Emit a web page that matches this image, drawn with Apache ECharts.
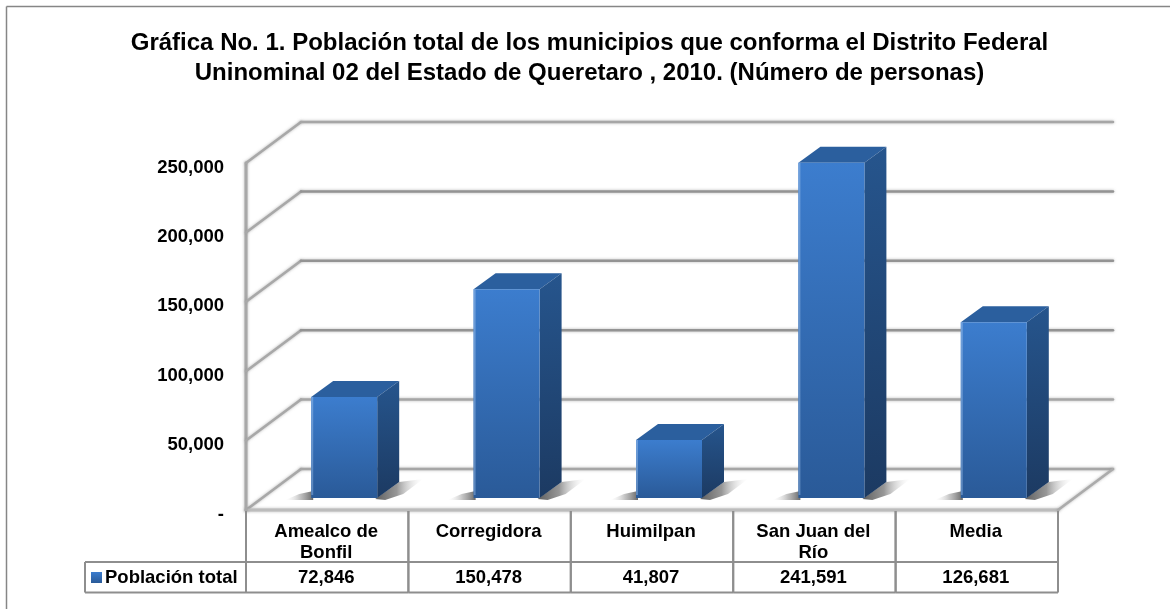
<!DOCTYPE html>
<html>
<head>
<meta charset="utf-8">
<style>html,body{margin:0;padding:0;background:#fff}#c{width:1170px;height:609px}</style>
<script src="https://cdn.jsdelivr.net/npm/echarts@6/dist/echarts.min.js"></script>
</head>
<body>
<div id="c"></div>
<script>
const categories = ["Amealco de\nBonfil", "Corregidora", "Huimilpan", "San Juan del\nRío", "Media"];
const values = [72846, 150478, 41807, 241591, 126681];
const valueLabels = ["72,846", "150,478", "41,807", "241,591", "126,681"];
const yTicks = [0, 50000, 100000, 150000, 200000, 250000];
const seriesName = "Población total";
const titleText = "Gráfica No. 1. Población total de los municipios que conforma el Distrito Federal\nUninominal 02 del Estado de Queretaro , 2010. (Número de personas)";

const FONT = '"Liberation Sans", Arial, sans-serif';
const grad = (c0, c1) => new echarts.graphic.LinearGradient(0, 0, 0, 1, [{offset: 0, color: c0}, {offset: 1, color: c1}]);
const fade = (stops) => new echarts.graphic.LinearGradient(0, 0, 1, 0, stops.map(s => ({offset: s[0], color: s[1]})));
const poly = (points, style, z2) => ({type: 'polygon', shape: {points}, style, z2: z2 || 0});
const line = (x1, y1, x2, y2, stroke, lineWidth, z2) => ({
  type: 'line', shape: {x1, y1, x2, y2}, z2: z2 || 0,
  style: {stroke, lineWidth, lineCap: 'round', shadowBlur: 3, shadowColor: 'rgba(150,150,150,0.7)'}
});

const WALL_DX = 55, WALL_DY = -41;
const BAR_SHIFT_X = 17, BAR_SHIFT_Y = -12;
const BAR_W = 66, BAR_DX = 22, BAR_DY = -16;

function renderWall(params, api) {
  const v = api.value(1);
  const band = api.size([1, 0])[0];
  const p0 = api.coord([0, v]);
  const p4 = api.coord([categories.length - 1, v]);
  const xL = p0[0] - band / 2, xR = p4[0] + band / 2, y = p0[1];
  const backColor = (v === 0 || v === 250000 || v === 50000) ? '#a6a6a6' : '#939393';
  const children = [
    line(xL, y, xL + WALL_DX, y + WALL_DY, '#a8a8a8', 2.5),
    line(xL + WALL_DX, y + WALL_DY, xR + WALL_DX, y + WALL_DY, backColor, 2.5)
  ];
  if (v === 0) {
    children.push(line(xL, y, xR, y, '#bcbcbc', 3));
    children.push(line(xR, y, xR + WALL_DX, y + WALL_DY, '#ababab', 2.5));
    const top = api.coord([0, yTicks[yTicks.length - 1]])[1];
    children.push(line(xL, y, xL, top, '#a8a8a8', 3));
  }
  return {type: 'group', children};
}

function renderBar(params, api) {
  const c = api.coord([api.value(0), api.value(1)]);
  const base = api.coord([api.value(0), 0]);
  const l = c[0] + BAR_SHIFT_X - BAR_W / 2, r = l + BAR_W;
  const t = c[1] + BAR_SHIFT_Y, b = base[1] + BAR_SHIFT_Y;
  const dx = BAR_DX, dy = BAR_DY;
  return {type: 'group', children: [
    poly([[r - 2, b + 1], [r + dx, b + dy], [r + 46, b - 19], [r + 26, b - 4], [r + 8, b + 2]],
      {fill: fade([[0, 'rgba(85,85,85,0.95)'], [0.45, 'rgba(125,125,125,0.8)'], [1, 'rgba(235,235,235,0)']])}),
    poly([[l - 26, b + 2], [l - 12, b - 4], [l + 2, b - 7], [l + 2, b + 2]],
      {fill: fade([[0, 'rgba(235,235,235,0)'], [0.55, 'rgba(165,165,165,0.7)'], [1, 'rgba(95,95,95,0.95)']])}),
    poly([[l, t], [l + dx, t + dy], [r + dx, t + dy], [r, t]], {fill: '#2b5f9e'}),
    poly([[r, t], [r + dx, t + dy], [r + dx, b + dy], [r, b]], {fill: grad('#26558d', '#1c3a62')}),
    poly([[l, t], [r, t], [r, b], [l, b]], {fill: grad('#3c7dce', '#2a5a98')}),
    poly([[l, t], [l + 2, t], [l + 2, b - 3], [l, b - 3]], {fill: grad('#6e9fdc', '#5c87bd')})
  ]};
}

function renderTable(params, api) {
  const i = api.value(0);
  const band = api.size([1, 0])[0];
  const c = api.coord([i, 0]);
  const x0 = c[0] - band / 2, x1 = c[0] + band / 2;
  const y0 = c[1] + 1, y1 = y0 + 51, y2 = y1 + 30.5;
  const stroke = '#8e8e8e';
  const plain = (x1_, y1_, x2_, y2_) => ({type: 'line', shape: {x1: x1_, y1: y1_, x2: x2_, y2: y2_}, style: {stroke, lineWidth: 2}});
  const children = [
    plain(x0, y0, x0, y2), plain(x1, y0, x1, y2),
    plain(x0, y1, x1, y1), plain(x0, y2, x1, y2),
    {type: 'text', style: {x: c[0] - 1, y: y0 + 10, text: categories[i], align: 'center', verticalAlign: 'top',
      font: 'bold 18.5px ' + FONT, fill: '#000', lineHeight: 21}},
    {type: 'text', style: {x: c[0] - 1, y: y1 + 16, text: valueLabels[i], align: 'center', verticalAlign: 'middle',
      font: 'bold 18.5px ' + FONT, fill: '#000'}}
  ];
  if (i === 0) {
    const lx = x0 - 161;
    children.push(plain(lx, y1, x0, y1), plain(lx, y2, x0, y2), plain(lx, y1, lx, y2));
  }
  return {type: 'group', children};
}

const chart = echarts.init(document.getElementById('c'), null, {renderer: 'canvas'});
chart.setOption({
  backgroundColor: '#ffffff',
  animation: false,
  title: {
    text: titleText, left: 584.5, top: 23, textAlign: 'center',
    textStyle: {fontFamily: FONT, fontWeight: 'bold', fontSize: 24, color: '#000', lineHeight: 30}
  },
  legend: {
    data: [seriesName], left: 91, top: 568, itemWidth: 11, itemHeight: 11, itemGap: 3,
    icon: 'rect', padding: 0, selectedMode: false,
    textStyle: {fontFamily: FONT, fontWeight: 'bold', fontSize: 18.5, color: '#000', padding: [0, 0, 0, -2]}
  },
  grid: {left: 246, right: 112, top: 163, bottom: 99, containLabel: false},
  xAxis: {
    type: 'category', data: categories,
    axisLine: {show: false}, axisTick: {show: false}, axisLabel: {show: false}, splitLine: {show: false}
  },
  yAxis: {
    type: 'value', min: 0, max: 250000, interval: 50000,
    axisLine: {show: false}, axisTick: {show: false}, splitLine: {show: false},
    axisLabel: {
      margin: 22, color: '#000',
      formatter: v => '{a|' + (v === 0 ? '-' : v.toLocaleString('en-US')) + '}',
      rich: {a: {fontFamily: FONT, fontWeight: 'bold', fontSize: 18.5, color: '#000', padding: [9, 0, 0, 0]}}
    }
  },
  series: [
    {type: 'custom', name: 'wall', z: 1, silent: true, clip: false, renderItem: renderWall,
      encode: {x: 0, y: 1}, data: yTicks.map(t => [0, t])},
    {type: 'custom', name: 'table', z: 2, silent: true, clip: false, renderItem: renderTable,
      encode: {x: 0, y: 1}, data: categories.map((_, i) => [i, 0])},
    {type: 'custom', name: seriesName, z: 3, clip: false, renderItem: renderBar,
      itemStyle: {color: grad('#3c7dce', '#2a5a98')},
      encode: {x: 0, y: 1}, data: values.map((v, i) => [i, v])}
  ],
  graphic: [
    {type: 'line', shape: {x1: 6.5, y1: 6.5, x2: 1170, y2: 6.5}, style: {stroke: '#868686', lineWidth: 1.5}},
    {type: 'line', shape: {x1: 6.5, y1: 6.5, x2: 6.5, y2: 609}, style: {stroke: '#868686', lineWidth: 1.5}}
  ]
});
</script>
</body>
</html>
